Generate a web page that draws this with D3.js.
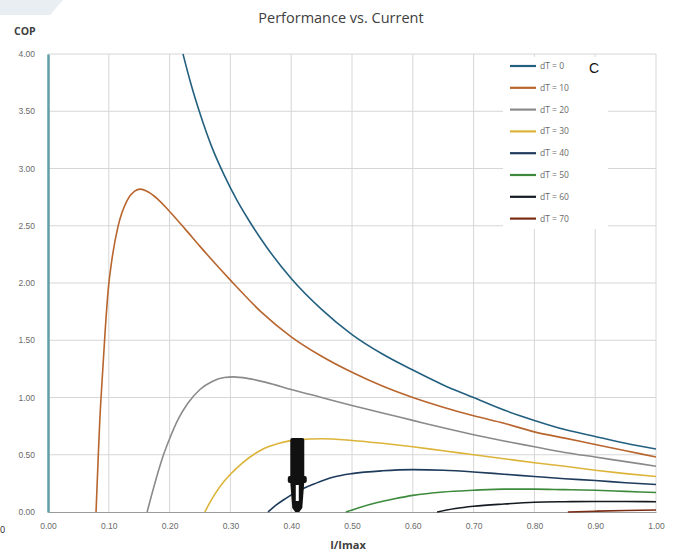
<!DOCTYPE html>
<html>
<head>
<meta charset="utf-8">
<script src="https://cdn.jsdelivr.net/npm/d3@7/dist/d3.min.js"></script>
<style>
  body { margin: 0; background: #fff; }
  svg { display: block; font-family: "Open Sans", "DejaVu Sans", sans-serif; }
</style>
</head>
<body>
<div id="chart"></div>
<script>
// Performance vs. Current - COP curves for several dT values
const xTicks = [0, 0.1, 0.2, 0.3, 0.4, 0.5, 0.6, 0.7, 0.8, 0.9, 1.0];
const yTicks = [0, 0.5, 1.0, 1.5, 2.0, 2.5, 3.0, 3.5, 4.0];

const seriesNames = ['dT = 0', 'dT = 10', 'dT = 20', 'dT = 30', 'dT = 40', 'dT = 50', 'dT = 60', 'dT = 70'];
const seriesColors = ['#23607f', '#b8652e', '#8a8a8a', '#dcb43a', '#1f3b5c', '#3d8a3d', '#141a22', '#7a2c14'];

const dT0_x = [0.222, 0.235, 0.25, 0.27, 0.29, 0.31, 0.33, 0.36, 0.40, 0.45, 0.50, 0.55, 0.60, 0.65, 0.70, 0.75, 0.80, 0.85, 0.90, 0.95, 1.00];
const dT0_y = [4.00, 3.74, 3.48, 3.18, 2.94, 2.73, 2.55, 2.31, 2.04, 1.77, 1.55, 1.38, 1.24, 1.11, 1.00, 0.89, 0.80, 0.72, 0.66, 0.60, 0.55];

const dT10_x = [0.079, 0.082, 0.085, 0.089, 0.094, 0.099, 0.105, 0.115, 0.13, 0.142, 0.152, 0.165, 0.18, 0.20, 0.225, 0.25, 0.275, 0.30, 0.35, 0.40, 0.45, 0.50, 0.55, 0.60, 0.65, 0.70, 0.75, 0.80, 0.85, 0.90, 0.95, 1.00];
const dT10_y = [0, 0.40, 0.78, 1.15, 1.58, 1.94, 2.20, 2.49, 2.72, 2.80, 2.82, 2.795, 2.735, 2.625, 2.475, 2.32, 2.17, 2.025, 1.75, 1.53, 1.36, 1.22, 1.10, 1.00, 0.915, 0.84, 0.775, 0.70, 0.645, 0.59, 0.535, 0.48];

const dT20_x = [0.163, 0.17, 0.18, 0.19, 0.20, 0.215, 0.23, 0.25, 0.27, 0.29, 0.305, 0.33, 0.36, 0.40, 0.45, 0.50, 0.55, 0.60, 0.65, 0.70, 0.75, 0.80, 0.85, 0.90, 0.95, 1.00];
const dT20_y = [0, 0.14, 0.33, 0.50, 0.64, 0.82, 0.95, 1.07, 1.14, 1.175, 1.18, 1.165, 1.13, 1.07, 1.00, 0.93, 0.865, 0.80, 0.735, 0.675, 0.62, 0.57, 0.52, 0.48, 0.44, 0.40];

const dT30_x = [0.258, 0.265, 0.275, 0.29, 0.30, 0.32, 0.35, 0.38, 0.41, 0.45, 0.50, 0.55, 0.60, 0.65, 0.70, 0.75, 0.80, 0.85, 0.90, 0.95, 1.00];
const dT30_y = [0, 0.07, 0.16, 0.27, 0.33, 0.43, 0.54, 0.60, 0.63, 0.64, 0.625, 0.60, 0.57, 0.535, 0.50, 0.465, 0.43, 0.40, 0.365, 0.335, 0.31];

const dT40_x = [0.362, 0.375, 0.39, 0.41, 0.44, 0.47, 0.50, 0.55, 0.60, 0.65, 0.70, 0.75, 0.80, 0.85, 0.90, 0.95, 1.00];
const dT40_y = [0, 0.06, 0.115, 0.18, 0.25, 0.305, 0.335, 0.36, 0.37, 0.365, 0.35, 0.33, 0.31, 0.29, 0.275, 0.255, 0.24];

const dT50_x = [0.49, 0.51, 0.54, 0.57, 0.60, 0.65, 0.70, 0.75, 0.80, 0.85, 0.90, 0.95, 1.00];
const dT50_y = [0, 0.035, 0.08, 0.115, 0.145, 0.175, 0.19, 0.20, 0.20, 0.195, 0.19, 0.18, 0.17];

const dT60_x = [0.64, 0.67, 0.70, 0.75, 0.80, 0.85, 0.90, 0.95, 1.00];
const dT60_y = [0, 0.03, 0.05, 0.07, 0.085, 0.09, 0.092, 0.092, 0.09];

const dT70_x = [0.855, 0.90, 0.95, 1.00];
const dT70_y = [0, 0.007, 0.013, 0.017];

const seriesX = [dT0_x, dT10_x, dT20_x, dT30_x, dT40_x, dT50_x, dT60_x, dT70_x];
const seriesY = [dT0_y, dT10_y, dT20_y, dT30_y, dT40_y, dT50_y, dT60_y, dT70_y];

const width = 675, height = 556;
const margin = { top: 54, right: 19, bottom: 44, left: 48 };
const innerW = width - margin.left - margin.right;
const innerH = height - margin.top - margin.bottom;

const svg = d3.select('#chart')
    .append('svg')
    .attr('width', width)
    .attr('height', height);

// faint corner mark
svg.append('polygon')
    .attr('points', '0,0 63,0 50,15 0,15')
    .attr('fill', '#e8eef2');

const g = svg.append('g')
    .attr('transform', `translate(${margin.left},${margin.top})`);

const x = d3.scaleLinear().domain([0, 1]).range([0, innerW]);
const y = d3.scaleLinear().domain([0, 4]).range([innerH, 0]);

// Gridlines
g.append('g')
    .selectAll('line')
    .data(xTicks.slice(1))
    .enter()
    .append('line')
    .attr('x1', d => x(d)).attr('x2', d => x(d))
    .attr('y1', 0).attr('y2', innerH)
    .attr('stroke', '#d6d6d6')
    .attr('stroke-width', 1);

g.append('g')
    .selectAll('line')
    .data(yTicks.slice(1))
    .enter()
    .append('line')
    .attr('x1', 0).attr('x2', innerW)
    .attr('y1', d => y(d)).attr('y2', d => y(d))
    .attr('stroke', '#d6d6d6')
    .attr('stroke-width', 1);

// X axis
const xAxis = g.append('g')
    .attr('transform', `translate(0,${innerH})`)
    .call(d3.axisBottom(x).tickValues(xTicks).tickFormat(d3.format('.2f')).tickSize(0).tickPadding(11));
xAxis.select('.domain').attr('stroke', '#9a9a9a').attr('stroke-width', 1.2);
xAxis.selectAll('text').style('font-size', '8.5px').style('fill', '#6a6a6a');

// Y axis
const yAxis = g.append('g')
    .call(d3.axisLeft(y).tickValues(yTicks).tickFormat(d3.format('.2f')).tickSize(0).tickPadding(13));
yAxis.select('.domain').attr('stroke', '#5f9ea6').attr('stroke-width', 2.5);
yAxis.selectAll('text').style('font-size', '8.5px').style('fill', '#6a6a6a');

// Curves
const line = d3.line()
    .x(d => x(d[0]))
    .y(d => y(d[1]))
    .curve(d3.curveMonotoneX);

seriesNames.forEach((name, i) => {
    const pts = seriesX[i].map((v, j) => [v, seriesY[i][j]]);
    g.append('path')
        .datum(pts)
        .attr('fill', 'none')
        .attr('stroke', seriesColors[i])
        .attr('stroke-width', 1.6)
        .attr('d', line);
});

// Dark marker overlay near I/Imax = 0.41
const mark = g.append('g')
    .attr('transform', `translate(${x(0.41)},${y(0)})`);
mark.append('rect').attr('x', -7).attr('y', -74).attr('width', 14).attr('height', 40).attr('rx', 2).attr('fill', '#111');
mark.append('rect').attr('x', -9.5).attr('y', -36).attr('width', 19).attr('height', 7).attr('rx', 2).attr('fill', '#111');
mark.append('path').attr('d', 'M-7,-30 L7,-30 L5,-4 L2,0 L-2,0 L-5,-4 Z').attr('fill', '#111');
mark.append('rect').attr('x', -1.5).attr('y', -27).attr('width', 3).attr('height', 16).attr('fill', '#fff');

// Legend
const legend = svg.append('g');
legend.append('rect')
    .attr('x', 503).attr('y', 57)
    .attr('width', 105).attr('height', 172)
    .attr('fill', '#fff');

seriesNames.forEach((name, i) => {
    const row = legend.append('g')
        .attr('transform', `translate(510, ${66 + i * 21.8})`);
    row.append('line')
        .attr('x1', 0).attr('x2', 26)
        .attr('stroke', seriesColors[i])
        .attr('stroke-width', 2.2);
    row.append('text')
        .attr('x', 30)
        .attr('y', 3)
        .style('font-size', '8.5px')
        .style('fill', '#6a6a6a')
        .text(name);
});

legend.append('text')
    .attr('x', 589).attr('y', 73)
    .style('font-family', 'Liberation Sans, Arial, sans-serif')
    .style('font-size', '14px')
    .style('fill', '#111')
    .text('C');

// Titles
svg.append('text')
    .attr('x', 341).attr('y', 23)
    .attr('text-anchor', 'middle')
    .style('font-size', '14.5px')
    .style('fill', '#404040')
    .text('Performance vs. Current');

svg.append('text')
    .attr('x', 14).attr('y', 35)
    .style('font-size', '10.5px')
    .style('font-weight', 'bold')
    .style('fill', '#404040')
    .text('COP');

svg.append('text')
    .attr('x', 348).attr('y', 549)
    .attr('text-anchor', 'middle')
    .style('font-size', '11px')
    .style('font-weight', 'bold')
    .style('fill', '#404040')
    .text('I/Imax');

svg.append('text')
    .attr('x', 0).attr('y', 533)
    .style('font-size', '9px')
    .style('fill', '#222')
    .text('0');
</script>
</body>
</html>
